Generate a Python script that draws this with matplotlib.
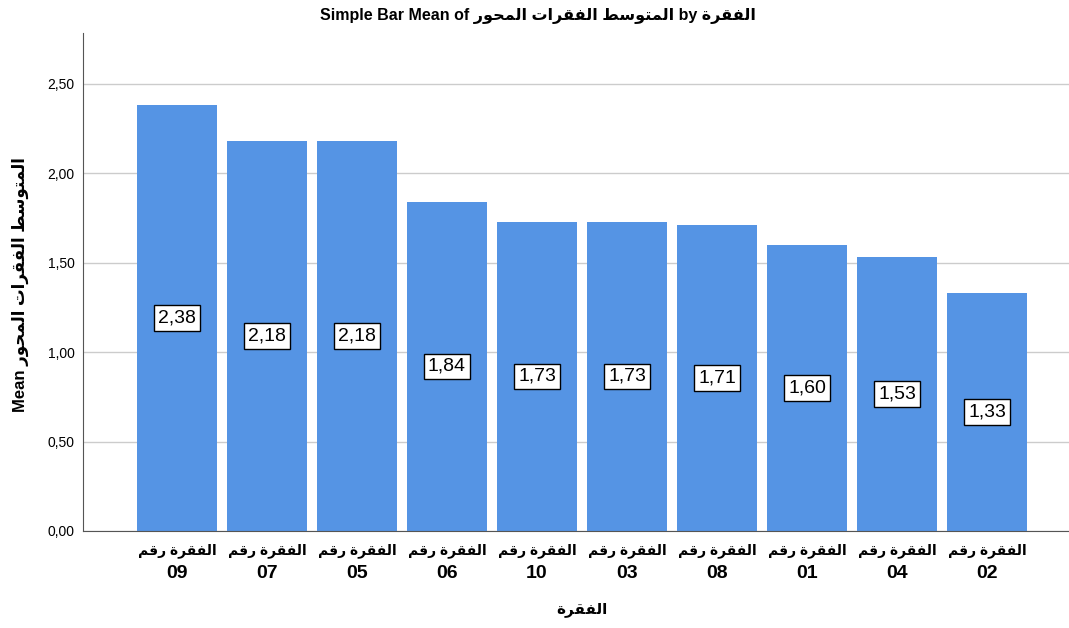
import matplotlib
matplotlib.use("Agg")
import matplotlib.pyplot as plt
import matplotlib.transforms as mt

# arabic presentation forms: isolated, final, initial, medial
FORMS = {
    'ا': ('\uFE8D', '\uFE8E', None, None),
    'ر': ('\uFEAD', '\uFEAE', None, None),
    'ة': ('\uFE93', '\uFE94', None, None),
    'و': ('\uFEED', '\uFEEE', None, None),
    'ل': ('\uFEDD', '\uFEDE', '\uFEDF', '\uFEE0'),
    'ف': ('\uFED1', '\uFED2', '\uFED3', '\uFED4'),
    'ق': ('\uFED5', '\uFED6', '\uFED7', '\uFED8'),
    'م': ('\uFEE1', '\uFEE2', '\uFEE3', '\uFEE4'),
    'ت': ('\uFE95', '\uFE96', '\uFE97', '\uFE98'),
    'س': ('\uFEB1', '\uFEB2', '\uFEB3', '\uFEB4'),
    'ط': ('\uFEC1', '\uFEC2', '\uFEC3', '\uFEC4'),
    'ح': ('\uFEA1', '\uFEA2', '\uFEA3', '\uFEA4'),
}

def ar(s):
    #shape the letters then reverse so it reads right to left
    out = []
    for i, c in enumerate(s):
        if c not in FORMS:
            out.append(c)
            continue
        prev = s[i-1] if i > 0 else None
        nxt = s[i+1] if i + 1 < len(s) else None
        jp = prev in FORMS and FORMS[prev][2] is not None
        jn = FORMS[c][2] is not None and nxt in FORMS
        idx = 3 if (jp and jn) else 1 if jp else 2 if jn else 0
        out.append(FORMS[c][idx])
    return ''.join(reversed(out))

item_word = "الفقرة"
item_label = "الفقرة رقم"
measure = "المتوسط الفقرات المحور"

items = ["09", "07", "05", "06", "10", "03", "08", "01", "04", "02"]
means = [2.38, 2.18, 2.18, 1.84, 1.73, 1.73, 1.71, 1.60, 1.53, 1.33]
yticks = [0.0, 0.5, 1.0, 1.5, 2.0, 2.5]

FAM = ['Liberation Sans', 'DejaVu Sans']
bar_col = "#5594E4"

fig = plt.figure(figsize=(10.69, 6.28), dpi=100)
ax = fig.add_axes([83/1069, 97/628, 986/1069, 498/628])

x = list(range(len(items)))
ax.bar(x, means, width=0.889, color=bar_col, zorder=2)
ax.set_xlim(-1.044, 9.911)
ax.set_ylim(0, 2.785)

ax.set_yticks(yticks)
ax.set_yticklabels([f"{v:.2f}".replace('.', ',') for v in yticks], family=FAM, fontsize=10)
ax.tick_params(axis='y', length=0, pad=6)
ax.set_xticks([])
ax.grid(axis='y', color='#cccccc', linewidth=1, zorder=0)
for s in ('top', 'right'):
    ax.spines[s].set_visible(False)
ax.spines['left'].set_color('#555555')
ax.spines['bottom'].set_color('#555555')

# value labels in boxes at half height
for xi, v in zip(x, means):
    ax.text(xi, v/2, f"{v:.2f}".replace('.', ','), ha='center', va='center',
            fontsize=14, family=FAM, zorder=3,
            bbox=dict(boxstyle='square,pad=0.22', fc='white', ec='black', lw=1))

# two line category labels
trans = mt.blended_transform_factory(ax.transData, ax.transAxes)
for xi, it in zip(x, items):
    ax.text(xi, -20/498, ar(item_label), transform=trans, ha='center', va='center',
            fontsize=10, fontweight='bold', family=FAM)
    ax.text(xi, -43/498, it, transform=trans, ha='center', va='center',
            fontsize=14, fontweight='bold', family=FAM)

ax.text(4.5, -79/498, ar(item_word), transform=trans, ha='center', va='center',
        fontsize=11, fontweight='bold', family=FAM)

fig.text(20/1069, 1 - 285/628, "Mean " + ar(measure), rotation=90, ha='center', va='center',
         fontsize=12, fontweight='bold', family=FAM)

fig.text(538/1069, 1 - 16/628, "Simple Bar Mean of " + ar(measure) + " by " + ar(item_word),
         ha='center', va='center', fontsize=11.5, fontweight='bold', family=FAM)

fig.savefig("out.png", dpi=100)
